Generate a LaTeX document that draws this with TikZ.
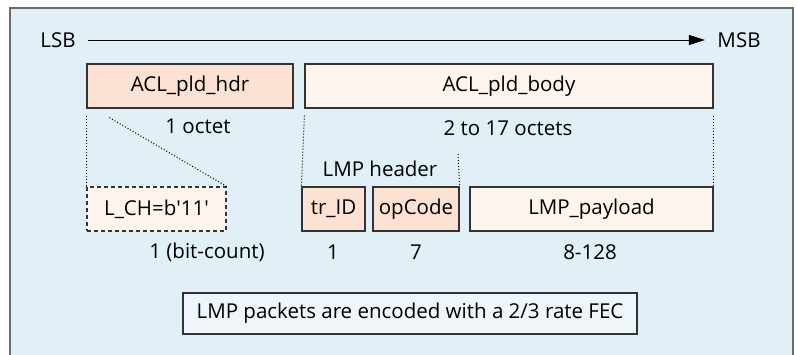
\documentclass[tikz,border=0pt]{standalone}
\usepackage{fontspec}
\setmainfont{Open Sans}
\usetikzlibrary{arrows.meta,positioning}
\definecolor{framebg}{HTML}{E1F0F7}
\definecolor{framedraw}{HTML}{6B6B6B}
\definecolor{hdrfill}{HTML}{FDE2D3}
\definecolor{bodyfill}{HTML}{FEF4EE}
\definecolor{notefill}{HTML}{EEF6FC}
\tikzset{%
	field/.style     = {draw=black!80, line width=1.2pt, minimum height=44pt, inner sep=0pt, text centered},
	hdrfield/.style  = {field, fill=hdrfill}, % header fields
	bodyfield/.style = {field, fill=bodyfill}, % body fields
	guide/.style     = {line width=1pt, dash pattern=on 1pt off 2pt}, % dotted guides
	axis/.style      = {line width=1pt, -{Triangle[length=16pt,width=10pt]}},
}

\begin{document}
\begin{tikzpicture}[x=1pt, y=-1pt, font=\fontsize{20.5}{24}\selectfont]
	\useasboundingbox (0,0) rectangle (797,354);
	\fill[framebg] (10,8) rectangle (793,370);
	\draw[framedraw, line width=1.2pt] (10,370) -- (10,8) -- (793,8) -- (793,370);
	
	\node (lsb) at (58,40) {LSB};
	\node (msb) at (739,40) {MSB};
	\node[hdrfield, minimum width=206pt] (hdr) at (190,86) {ACL\_pld\_hdr};
	\node[bodyfield, minimum width=408pt] (body) at (509,86) {ACL\_pld\_body};
	\node (hdrsize) at (198,126) {1 octet};
	\node (bodysize) at (508,128) {2 to 17 octets};
	\node (lmphdr) at (380,169) {LMP header};
	\node[bodyfield, dash pattern=on 4pt off 3pt, minimum width=139pt] (lch) at (156.5,209) {L\_CH=b\textquotesingle 11\textquotesingle};
	\node[hdrfield, minimum width=63pt] (trid) at (333.5,209) {tr\_ID};
	\node[hdrfield, minimum width=86pt] (opcode) at (416,209) {opCode};
	\node[bodyfield, minimum width=243pt] (payload) at (591.5,209) {LMP\_payload};
	\node (lchsize) at (207,252) {1 (bit-count)};
	\node (tridsize) at (333,252) {1};
	\node (opsize) at (416,252) {7};
	\node (paysize) at (590,252) {8-128};
	\node[field, fill=notefill, minimum width=454pt, minimum height=41pt] (fec) at (410,313.5) {LMP packets are encoded with a 2/3 rate FEC};
	\coordinate (lmpend) at (458,154);
	
	\draw[axis, shorten <=9pt, shorten >=9pt] (lsb) -- (msb);
	\draw[guide] ([yshift=-7pt]hdr.south west) -- (lch.north west);
	\draw[guide] ([shift={(23pt,-9pt)}]hdr.south west) -- (lch.north east);
	\draw[guide] ([yshift=-7pt]body.south west) -- (trid.north west);
	\draw[guide] ([yshift=-7pt]body.south east) -- (payload.north east);
	\draw[guide] (lmpend) -- (opcode.north east);
\end{tikzpicture}
\end{document}
